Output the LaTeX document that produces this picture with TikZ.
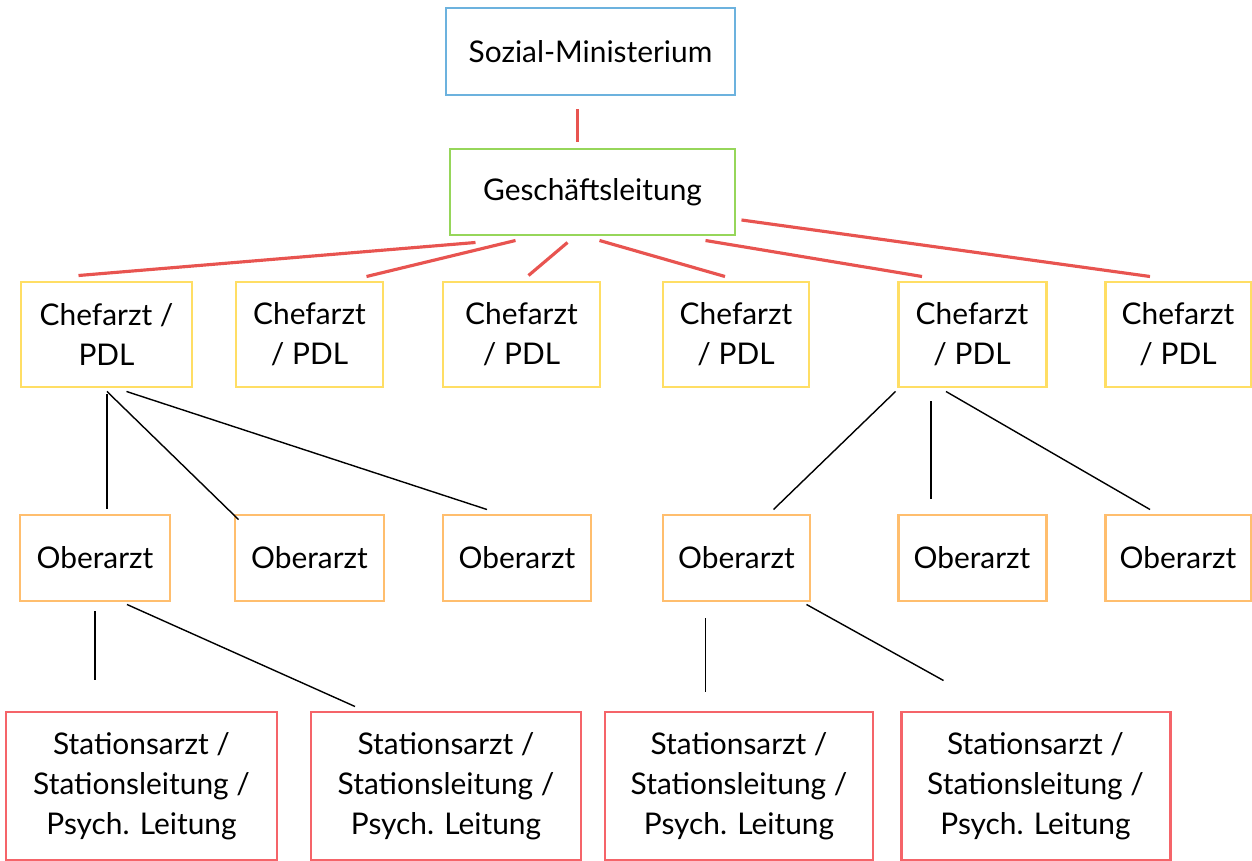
\documentclass[tikz,border=0pt]{standalone}
\usepackage{fontspec}
\setmainfont{Lato}
\usetikzlibrary{calc}
\definecolor{smblue}{RGB}{108,178,222}
\definecolor{glgreen}{RGB}{150,214,90}
\definecolor{cfyellow}{RGB}{255,222,100}
\definecolor{oborange}{RGB}{255,190,110}
\definecolor{stred}{RGB}{245,100,105}
\definecolor{linkred}{RGB}{232,84,80}
\begin{document}
\begin{tikzpicture}[x=0.02cm, y=-0.02cm,
		box/.style={draw, line width=1.7pt, fill=white, align=center, inner sep=0pt,
			font=\fontsize{17}{22.7}\selectfont},
		boxsize/.style 2 args={minimum width=#1*0.02cm, minimum height=#2*0.02cm},
		redlink/.style={draw=linkred, line width=1.8pt},
		blacklink/.style={draw=black, line width=0.8pt}]
		\useasboundingbox (0,0) rectangle (1252,861);

		% top
		\node[box, draw=smblue, boxsize={289}{87}] (sm) at (590.5,51.5) {Sozial-Ministerium};
		\node[box, draw=glgreen, boxsize={285}{86}] (gl) at (592.5,192) {Geschäftsleitung};

		% chief physicians
		\node[box, draw=cfyellow, boxsize={171}{105}] (chefA) at (106.5,334.5) {Chefarzt /\\PDL};
		\node[box, draw=cfyellow, boxsize={147}{105}] (chefB) at (309.5,334.5) {Chefarzt\\/ PDL};
		\node[box, draw=cfyellow, boxsize={157}{105}] (chefC) at (521.5,334.5) {Chefarzt\\/ PDL};
		\node[box, draw=cfyellow, boxsize={146}{105}] (chefD) at (736,334.5) {Chefarzt\\/ PDL};
		\node[box, draw=cfyellow, boxsize={148}{105}] (chefE) at (972,334.5) {Chefarzt\\/ PDL};
		\node[box, draw=cfyellow, boxsize={146}{105}] (chefF) at (1178,334.5) {Chefarzt\\/ PDL};

		% senior physicians
		\node[box, draw=oborange, boxsize={150}{86}] (oberA) at (95,558) {Oberarzt};
		\node[box, draw=oborange, boxsize={149}{86}] (oberB) at (309.5,558) {Oberarzt};
		\node[box, draw=oborange, boxsize={148}{86}] (oberC) at (517,558) {Oberarzt};
		\node[box, draw=oborange, boxsize={147}{86}] (oberD) at (736.5,558) {Oberarzt};
		\node[box, draw=oborange, boxsize={148}{86}] (oberE) at (972,558) {Oberarzt};
		\node[box, draw=oborange, boxsize={146}{86}] (oberF) at (1178,558) {Oberarzt};

		% wards
		\node[box, draw=stred, boxsize={271}{148}] (stA) at (141.5,786) {Stationsarzt /\\Stationsleitung /\\Psych. Leitung};
		\node[box, draw=stred, boxsize={270}{148}] (stB) at (446,786) {Stationsarzt /\\Stationsleitung /\\Psych. Leitung};
		\node[box, draw=stred, boxsize={268}{148}] (stC) at (739,786) {Stationsarzt /\\Stationsleitung /\\Psych. Leitung};
		\node[box, draw=stred, boxsize={269}{148}] (stD) at (1035.5,786) {Stationsarzt /\\Stationsleitung /\\Psych. Leitung};

		% red links
		\draw[redlink] ($(sm.south)+(-13,13)$) -- ($(gl.north)+(-15,-6)$);
		\draw[redlink] ($(gl.south)+(-117,6)$) -- ($(chefA.north)+(-28,-5)$);
		\draw[redlink] ($(gl.south)+(-77,4)$) -- ($(chefB.north)+(57,-4)$);
		\draw[redlink] ($(gl.south)+(-25,6)$) -- ($(chefC.north)+(7,-5)$);
		\draw[redlink] ($(gl.south)+(7,4)$) -- ($(chefD.north)+(-11,-4)$);
		\draw[redlink] ($(gl.south)+(113,4)$) -- ($(chefE.north)+(-50,-4)$);
		\draw[redlink] ($(gl.east)+(5,28)$) -- ($(chefF.north)+(-28,-4)$);

		% black links
		\draw[blacklink] ($(chefA.south)+(0.5,6)$) -- ($(chefA.south |- oberA.north)+(0.5,-5)$);
		\draw[blacklink] ($(chefA.south)+(0.5,3)$) -- ($(oberB.north west)+(5,6)$);
		\draw[blacklink] ($(chefA.south)+(20,3)$) -- ($(oberC.north)+(-30,-4)$);
		\draw[blacklink] ($(chefE.south west)+(-1,3)$) -- ($(oberD.north)+(37,-4)$);
		\draw[blacklink] ($(chefE.south)+(-41,13)$) -- ($(oberE.north)+(-41,-15)$);
		\draw[blacklink] ($(chefE.south)+(-26,3)$) -- ($(oberF.north)+(-28,-4)$);
		\draw[blacklink] ($(oberA.south)+(0,9)$) -- ($(oberA.south |- stA.north)+(0,-31)$);
		\draw[blacklink] ($(oberA.south)+(32,2)$) -- ($(stB.north)+(-91,-4)$);
		\draw[blacklink] ($(oberD.south)+(-31,16)$) -- ($(oberD.south |- stC.north)+(-31,-19)$);
		\draw[blacklink] ($(oberD.south)+(70,2)$) -- ($(stD.north)+(-92,-30)$);
	\end{tikzpicture}
\end{document}
